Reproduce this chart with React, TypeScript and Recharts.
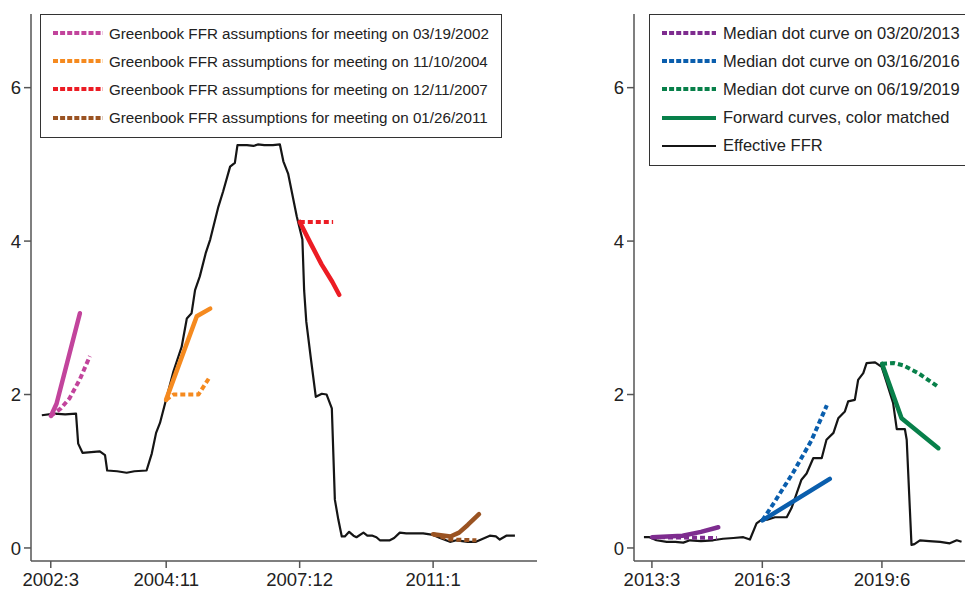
import { LineChart, Line, XAxis, YAxis } from 'recharts';

// left panel: effective FFR and Greenbook assumptions (t = decimal year)
const ffrLeft: [number, number][] = [
  [2001.96, 1.73], [2002.25, 1.75], [2002.5, 1.74], [2002.75, 1.75], [2002.8, 1.36],
  [2002.9, 1.24], [2003.1, 1.25], [2003.3, 1.26], [2003.42, 1.21], [2003.47, 1.01],
  [2003.7, 1.0], [2003.92, 0.98], [2004.1, 1.0], [2004.38, 1.01], [2004.5, 1.23],
  [2004.6, 1.5], [2004.69, 1.63], [2004.81, 1.89], [2005.0, 2.3], [2005.19, 2.62],
  [2005.31, 2.99], [2005.42, 3.06], [2005.5, 3.36], [2005.61, 3.54], [2005.75, 3.85],
  [2005.85, 4.02], [2006.04, 4.45], [2006.15, 4.65], [2006.31, 4.97], [2006.42, 5.02],
  [2006.48, 5.25], [2006.7, 5.25], [2006.85, 5.24], [2006.95, 5.26], [2007.1, 5.25],
  [2007.3, 5.25], [2007.46, 5.26], [2007.54, 5.04], [2007.65, 4.88], [2007.85, 4.32],
  [2007.98, 4.02], [2008.02, 3.36], [2008.07, 2.95], [2008.18, 2.45], [2008.29, 1.97],
  [2008.43, 2.01], [2008.54, 2.0], [2008.66, 1.82], [2008.73, 0.63], [2008.81, 0.37],
  [2008.89, 0.15], [2008.96, 0.15], [2009.06, 0.21], [2009.16, 0.16], [2009.23, 0.14],
  [2009.39, 0.2], [2009.48, 0.16], [2009.6, 0.16], [2009.69, 0.14], [2009.77, 0.1],
  [2010.0, 0.1], [2010.1, 0.13], [2010.23, 0.2], [2010.38, 0.19], [2010.6, 0.19],
  [2010.77, 0.19], [2011.0, 0.17], [2011.16, 0.13], [2011.39, 0.08], [2011.54, 0.1],
  [2011.8, 0.08], [2011.99, 0.08], [2012.15, 0.12], [2012.31, 0.16], [2012.45, 0.15],
  [2012.54, 0.11], [2012.69, 0.16], [2012.89, 0.16],
];
const gb2002Fwd: [number, number][] = [[2002.17, 1.72], [2002.3, 1.88], [2002.84, 3.06]];
const gb2002: [number, number][] = [[2002.17, 1.72], [2002.4, 1.82], [2002.6, 1.95], [2002.84, 2.2], [2003.07, 2.5]];
const gb2004Fwd: [number, number][] = [[2004.83, 1.93], [2005.54, 3.02], [2005.85, 3.12]];
const gb2004: [number, number][] = [[2004.83, 1.93], [2005.0, 2.0], [2005.58, 2.0], [2005.83, 2.22]];
const gb2007Fwd: [number, number][] = [[2007.92, 4.25], [2008.17, 3.97], [2008.42, 3.7], [2008.67, 3.47], [2008.83, 3.3]];
const gb2007: [number, number][] = [[2007.92, 4.25], [2008.69, 4.25]];
const gb2011Fwd: [number, number][] = [[2011.0, 0.18], [2011.4, 0.15], [2011.6, 0.2], [2011.8, 0.3], [2012.06, 0.44]];
const gb2011: [number, number][] = [[2011.0, 0.18], [2011.4, 0.11], [2012.0, 0.1]];

// right panel: effective FFR and median dots
const ffrRight: [number, number][] = [
  [2012.95, 0.14], [2013.1, 0.14], [2013.29, 0.1], [2013.57, 0.08], [2013.8, 0.08],
  [2014.02, 0.07], [2014.2, 0.1], [2014.5, 0.09], [2014.83, 0.1], [2015.1, 0.12],
  [2015.38, 0.13], [2015.65, 0.14], [2015.83, 0.11], [2016.01, 0.32], [2016.15, 0.37],
  [2016.3, 0.37], [2016.51, 0.4], [2016.83, 0.4], [2016.96, 0.52], [2017.1, 0.71],
  [2017.23, 0.89], [2017.37, 0.97], [2017.55, 1.17], [2017.78, 1.17], [2017.91, 1.41],
  [2018.1, 1.5], [2018.23, 1.69], [2018.41, 1.78], [2018.5, 1.91], [2018.68, 1.93],
  [2018.77, 2.19], [2018.91, 2.28], [2019.0, 2.41], [2019.23, 2.42], [2019.41, 2.36],
  [2019.55, 2.15], [2019.72, 1.89], [2019.82, 1.55], [2020.04, 1.55], [2020.09, 1.41],
  [2020.22, 0.04], [2020.3, 0.05], [2020.45, 0.1], [2020.7, 0.09], [2021.0, 0.08],
  [2021.26, 0.06], [2021.45, 0.1], [2021.58, 0.08],
];
const dot2013Fwd: [number, number][] = [[2013.17, 0.14], [2014.0, 0.16], [2014.5, 0.21], [2014.97, 0.27]];
const dot2013: [number, number][] = [[2013.17, 0.14], [2014.93, 0.13]];
const dot2016Fwd: [number, number][] = [[2016.17, 0.36], [2018.0, 0.9]];
const dot2016: [number, number][] = [[2016.17, 0.36], [2016.5, 0.6], [2017.0, 0.98], [2017.5, 1.4], [2017.92, 1.86]];
const dot2019Fwd: [number, number][] = [[2019.42, 2.4], [2019.95, 1.69], [2020.95, 1.3]];
const dot2019: [number, number][] = [[2019.42, 2.4], [2019.75, 2.41], [2020.0, 2.38], [2020.4, 2.28], [2020.95, 2.1]];

const leftTickLabels = ['2002:3', '2004:11', '2007:12', '2011:1'];
const rightTickLabels = ['2013:3', '2016:3', '2019:6'];
const yTicks = [0, 2, 4, 6];

const leftLegend = [
  'Greenbook FFR assumptions for meeting on 03/19/2002',
  'Greenbook FFR assumptions for meeting on 11/10/2004',
  'Greenbook FFR assumptions for meeting on 12/11/2007',
  'Greenbook FFR assumptions for meeting on 01/26/2011',
];
const rightLegend = [
  'Median dot curve on 03/20/2013',
  'Median dot curve on 03/16/2016',
  'Median dot curve on 06/19/2019',
  'Forward curves, color matched',
  'Effective FFR',
];

const MAGENTA = '#c2449c';
const ORANGE = '#f58a1f';
const RED = '#ec1c24';
const BROWN = '#9a5322';
const PURPLE = '#7e2c8f';
const BLUE = '#0a5ead';
const GREEN = '#08804a';
const BLACK = '#151515';

const toT = (s: string) => {
  const [y, m] = s.split(':').map(Number);
  return y + (m - 1) / 12;
};
const rows = (pts: [number, number][]) => pts.map(([t, v]) => ({ t, v }));

const FONT = '"Liberation Sans", Arial, Helvetica, sans-serif';
const tickStyle = { fontSize: 18.5, fill: '#222', fontFamily: FONT };
const axisLine = { stroke: '#555', strokeWidth: 1.5 };

function Panel(props: {
  width: number;
  domain: [number, number];
  tickLabels: string[];
  ffr: [number, number][];
  series: { pts: [number, number][]; color: string; dashed: boolean }[];
}) {
  const ticks = props.tickLabels.map(toT);
  const fmt = (v: number) => {
    const i = ticks.findIndex((x) => Math.abs(x - v) < 0.01);
    return i >= 0 ? props.tickLabels[i] : '';
  };
  return (
    <LineChart width={props.width} height={590} margin={{ top: 14, right: 23, left: 0, bottom: 0 }}>
      <XAxis
        type="number"
        dataKey="t"
        domain={props.domain}
        allowDataOverflow
        ticks={ticks}
        tickFormatter={fmt}
        height={29}
        tickSize={7}
        tickMargin={5}
        tick={tickStyle}
        axisLine={axisLine}
        tickLine={axisLine}
      />
      <YAxis
        type="number"
        domain={[-0.17, 6.96]}
        allowDataOverflow
        ticks={yTicks}
        width={31}
        tickSize={7}
        tickMargin={3}
        tick={tickStyle}
        axisLine={axisLine}
        tickLine={axisLine}
      />
      <Line
        data={rows(props.ffr)}
        dataKey="v"
        type="linear"
        stroke={BLACK}
        strokeWidth={2.2}
        strokeLinejoin="round"
        dot={false}
        isAnimationActive={false}
      />
      {props.series.map((s, i) => (
        <Line
          key={i}
          data={rows(s.pts)}
          dataKey="v"
          type="linear"
          stroke={s.color}
          strokeWidth={s.dashed ? 4 : 4.5}
          strokeDasharray={s.dashed ? '5 3' : undefined}
          strokeLinecap={s.dashed ? 'butt' : 'round'}
          strokeLinejoin="round"
          dot={false}
          isAnimationActive={false}
        />
      ))}
    </LineChart>
  );
}

function LegendBox(props: {
  left: number;
  width: number;
  sampleWidth: number;
  gap: number;
  fontSize: number;
  items: { label: string; color: string; dashed: boolean; thin?: boolean }[];
}) {
  return (
    <div
      style={{
        position: 'absolute',
        left: props.left,
        top: 14,
        width: props.width,
        border: '1.5px solid #333',
        background: '#fff',
        padding: '4px 0 5px 12px',
        boxSizing: 'border-box',
        fontFamily: FONT,
        fontSize: props.fontSize,
        color: '#222',
      }}
    >
      {props.items.map((it, i) => (
        <div key={i} style={{ height: 28.2, display: 'flex', alignItems: 'center', whiteSpace: 'nowrap' }}>
          <svg width={props.sampleWidth} height={8} style={{ marginRight: props.gap, flex: 'none' }}>
            <line
              x1={0}
              y1={4}
              x2={props.sampleWidth}
              y2={4}
              stroke={it.color}
              strokeWidth={it.thin ? 2 : 4}
              strokeDasharray={it.dashed ? '5 2.1' : undefined}
            />
          </svg>
          <span>{it.label}</span>
        </div>
      ))}
    </div>
  );
}

export default function App() {
  return (
    <div
      style={{
        position: 'absolute',
        left: 0,
        top: 0,
        width: 965,
        height: 590,
        overflow: 'hidden',
        background: '#fff',
      }}
    >
      <div style={{ position: 'absolute', left: 0, top: 0 }}>
        <Panel
          width={560}
          domain={[2001.71, 2013.4]}
          tickLabels={leftTickLabels}
          ffr={ffrLeft}
          series={[
            { pts: gb2002Fwd, color: MAGENTA, dashed: false },
            { pts: gb2002, color: MAGENTA, dashed: true },
            { pts: gb2004Fwd, color: ORANGE, dashed: false },
            { pts: gb2004, color: ORANGE, dashed: true },
            { pts: gb2007Fwd, color: RED, dashed: false },
            { pts: gb2007, color: RED, dashed: true },
            { pts: gb2011Fwd, color: BROWN, dashed: false },
            { pts: gb2011, color: BROWN, dashed: true },
          ]}
        />
      </div>
      <div style={{ position: 'absolute', left: 603, top: 0 }}>
        <Panel
          width={443}
          domain={[2012.68, 2023.25]}
          tickLabels={rightTickLabels}
          ffr={ffrRight}
          series={[
            { pts: dot2013Fwd, color: PURPLE, dashed: false },
            { pts: dot2013, color: PURPLE, dashed: true },
            { pts: dot2016Fwd, color: BLUE, dashed: false },
            { pts: dot2016, color: BLUE, dashed: true },
            { pts: dot2019Fwd, color: GREEN, dashed: false },
            { pts: dot2019, color: GREEN, dashed: true },
          ]}
        />
      </div>
      <LegendBox
        left={40}
        width={462}
        sampleWidth={50}
        gap={6}
        fontSize={15.2}
        items={leftLegend.map((label, i) => ({ label, color: [MAGENTA, ORANGE, RED, BROWN][i], dashed: true }))}
      />
      <LegendBox
        left={649}
        width={360}
        sampleWidth={54}
        gap={7}
        fontSize={16.5}
        items={rightLegend.map((label, i) => ({
          label,
          color: [PURPLE, BLUE, GREEN, GREEN, BLACK][i],
          dashed: i < 3,
          thin: i === 4,
        }))}
      />
    </div>
  );
}
